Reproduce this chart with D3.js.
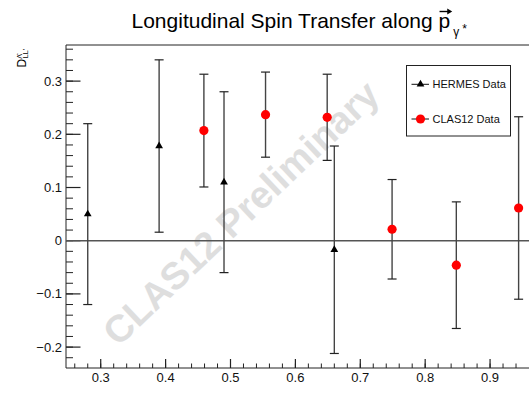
<!DOCTYPE html>
<html>
<head>
<meta charset="utf-8">
<script src="https://cdn.jsdelivr.net/npm/d3@7"></script>
<style>
  html, body { margin: 0; padding: 0; background: #fff; }
  svg { display: block; font-family: "Liberation Sans", Arial, Helvetica, sans-serif; }
</style>
</head>
<body>
<svg id="chart" width="529" height="396"></svg>
<script>
// HERMES measurements: kinematic bins, spin transfer, symmetric errors
const hermesX   = [0.28, 0.39, 0.49, 0.66];
const hermesY   = [0.050, 0.178, 0.110, -0.017];
const hermesErr = [0.170, 0.162, 0.170, 0.195];

// CLAS12 measurements
const clasX   = [0.459, 0.554, 0.649, 0.749, 0.848, 0.944];
const clasY   = [0.207, 0.237, 0.232, 0.0215, -0.046, 0.0615];
const clasErr = [0.106, 0.080, 0.081, 0.0935, 0.119, 0.1715];

const xTicks = [0.3, 0.4, 0.5, 0.6, 0.7, 0.8, 0.9];
const yTicks = [-0.2, -0.1, 0, 0.1, 0.2, 0.3];

const legendLabels = ["HERMES Data", "CLAS12 Data"];

const svg = d3.select("#chart");
const padL = 66, padR = 529, padT = 45, padB = 368;

const x = d3.scaleLinear().domain([0.2465, 0.96]).range([padL, padR]);
const y = d3.scaleLinear().domain([-0.2393, 0.3679]).range([padB, padT]);

// watermark behind the data
svg.append("text")
  .attr("transform", "translate(241,213) rotate(-43.5)")
  .attr("text-anchor", "middle")
  .attr("dominant-baseline", "central")
  .attr("font-size", 38)
  .attr("font-weight", "bold")
  .attr("fill", "#dedede")
  .text("CLAS12 Preliminary");

// frame
svg.append("path")
  .attr("d", `M${padR + 2},${padT}H${padL}V${padB}H${padR + 2}`)
  .attr("fill", "none").attr("stroke", "#222").attr("stroke-width", 1);

// y axis: major and minor ticks drawn inward
const yMinor = d3.range(-0.22, 0.37, 0.02).map(v => +v.toFixed(2));
const yAxis = svg.append("g").attr("transform", `translate(${padL},0)`);
yAxis.selectAll("line.minor").data(yMinor).join("line")
  .attr("class", "minor")
  .attr("x1", 0).attr("x2", 7)
  .attr("y1", d => y(d)).attr("y2", d => y(d))
  .attr("stroke", "#222").attr("stroke-width", 1);
yAxis.selectAll("line.major").data(yTicks).join("line")
  .attr("class", "major")
  .attr("x1", 0).attr("x2", 14.5)
  .attr("y1", d => y(d)).attr("y2", d => y(d))
  .attr("stroke", "#222").attr("stroke-width", 1.2);
yAxis.selectAll("text").data(yTicks).join("text")
  .attr("x", -4).attr("y", d => y(d))
  .attr("text-anchor", "end").attr("dominant-baseline", "central")
  .attr("font-size", 13).attr("fill", "#111")
  .text(d => d === 0 ? "0" : (d < 0 ? "\u2212" : "") + Math.abs(d).toFixed(1));

// x axis
const xMinor = d3.range(0.26, 0.96, 0.02).map(v => +v.toFixed(2));
const xAxis = svg.append("g").attr("transform", `translate(0,${padB})`);
xAxis.selectAll("line.minor").data(xMinor).join("line")
  .attr("class", "minor")
  .attr("x1", d => x(d)).attr("x2", d => x(d))
  .attr("y1", 0).attr("y2", -4.5)
  .attr("stroke", "#222").attr("stroke-width", 1);
xAxis.selectAll("line.major").data(xTicks).join("line")
  .attr("class", "major")
  .attr("x1", d => x(d)).attr("x2", d => x(d))
  .attr("y1", 0).attr("y2", -9)
  .attr("stroke", "#222").attr("stroke-width", 1.2);
xAxis.selectAll("text").data(xTicks).join("text")
  .attr("x", d => x(d)).attr("y", 14)
  .attr("text-anchor", "middle")
  .attr("font-size", 13).attr("fill", "#111")
  .text(d => d.toFixed(1));

// zero line
svg.append("line")
  .attr("x1", padL).attr("x2", padR)
  .attr("y1", y(0)).attr("y2", y(0))
  .attr("stroke", "#555").attr("stroke-width", 1.5);

// error bars
function errorBars(xs, ys, es, cls) {
  const g = svg.append("g").attr("class", cls);
  const pts = xs.map((v, i) => ({ x: v, y: ys[i], e: es[i] }));
  g.selectAll("line.v").data(pts).join("line")
    .attr("class", "v")
    .attr("x1", d => x(d.x)).attr("x2", d => x(d.x))
    .attr("y1", d => y(d.y + d.e)).attr("y2", d => y(d.y - d.e))
    .attr("stroke", "#444").attr("stroke-width", 1.4);
  ["hi", "lo"].forEach(side => {
    g.selectAll("line." + side).data(pts).join("line")
      .attr("class", side)
      .attr("x1", d => x(d.x) - 4.5).attr("x2", d => x(d.x) + 4.5)
      .attr("y1", d => y(side === "hi" ? d.y + d.e : d.y - d.e))
      .attr("y2", d => y(side === "hi" ? d.y + d.e : d.y - d.e))
      .attr("stroke", "#222").attr("stroke-width", 1.2);
  });
  return pts;
}

const hermesPts = errorBars(hermesX, hermesY, hermesErr, "hermes");
const clasPts = errorBars(clasX, clasY, clasErr, "clas12");

const tri = d3.symbol().type(d3.symbolTriangle).size(26);
svg.append("g").selectAll("path").data(hermesPts).join("path")
  .attr("d", tri)
  .attr("transform", d => `translate(${x(d.x)},${y(d.y)})`)
  .attr("fill", "#000");

svg.append("g").selectAll("circle").data(clasPts).join("circle")
  .attr("cx", d => x(d.x)).attr("cy", d => y(d.y))
  .attr("r", 4.6).attr("fill", "#ff0000");

// legend
const lg = svg.append("g");
lg.append("rect")
  .attr("x", 406.5).attr("y", 65.5).attr("width", 104).attr("height", 70.5)
  .attr("fill", "#fff").attr("stroke", "#222").attr("stroke-width", 1);
const rows = [84.3, 119];
legendLabels.forEach((lab, i) => {
  const cy = rows[i];
  lg.append("line").attr("x1", 411.5).attr("x2", 429).attr("y1", cy).attr("y2", cy)
    .attr("stroke", "#111").attr("stroke-width", 1);
  if (i === 0) {
    lg.append("path").attr("d", tri).attr("transform", `translate(420.5,${cy})`).attr("fill", "#000");
  } else {
    lg.append("circle").attr("cx", 420.5).attr("cy", cy).attr("r", 4.6).attr("fill", "#ff0000");
  }
  lg.append("text").attr("x", 432.5).attr("y", cy)
    .attr("dominant-baseline", "central")
    .attr("font-size", 11).attr("fill", "#111").text(lab);
});

// title with vector arrow over p and gamma* subscript
const prefix = "Longitudinal Spin Transfer along ";
const title = svg.append("text")
  .attr("x", 131.5).attr("y", 28)
  .attr("font-size", 21).attr("fill", "#000");
title.append("tspan").text(prefix);
title.append("tspan").text("p");
title.append("tspan").attr("font-size", 12).attr("dx", 3).attr("dy", 8).text("\u03b3");
title.append("tspan").attr("font-size", 12).attr("dx", 3).attr("dy", -3).text("*");

const pExt = title.node().getExtentOfChar(prefix.length);
const ax0 = pExt.x + 1, ax1 = pExt.x + pExt.width + 1, ay = 11.5;
svg.append("line").attr("x1", ax0).attr("x2", ax1 - 2).attr("y1", ay).attr("y2", ay)
  .attr("stroke", "#000").attr("stroke-width", 1.4);
svg.append("path")
  .attr("d", `M${ax1 + 1},${ay}L${ax1 - 4},${ay - 3}L${ax1 - 4},${ay + 3}Z`)
  .attr("fill", "#000");

// y-axis title
const yt = svg.append("text")
  .attr("transform", "translate(26,49) rotate(-90)")
  .attr("text-anchor", "end")
  .attr("font-size", 12).attr("fill", "#000");
yt.append("tspan").text("D");
yt.append("tspan").attr("font-size", 7).attr("dy", -4).text("\u039b\u0302");
yt.append("tspan").attr("font-size", 7).attr("dx", -4).attr("dy", 6).text("LL'");
</script>
</body>
</html>
